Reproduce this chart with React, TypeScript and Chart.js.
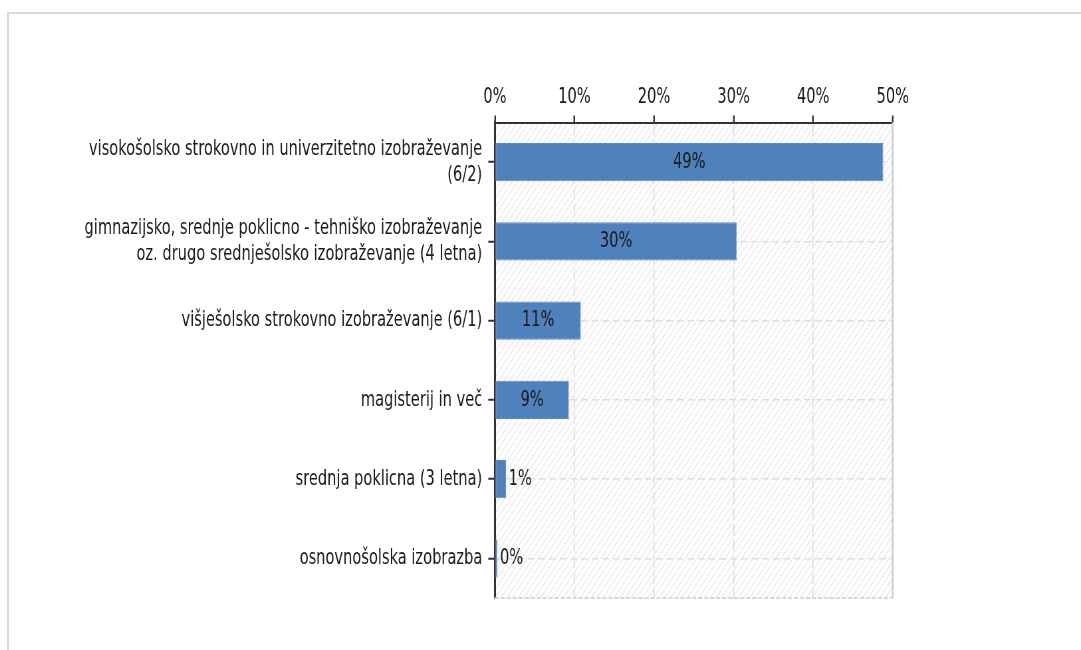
import { useEffect, useRef } from 'react';
import { Chart, registerables } from 'chart.js';

Chart.register(...registerables);

// Education level categories (multi-line labels are arrays)
const categories: (string | string[])[] = [
  ['visokošolsko strokovno in univerzitetno izobraževanje', '(6/2)'],
  ['gimnazijsko, srednje poklicno - tehniško izobraževanje', 'oz. drugo srednješolsko izobraževanje (4 letna)'],
  'višješolsko strokovno izobraževanje (6/1)',
  'magisterij in več',
  'srednja poklicna (3 letna)',
  'osnovnošolska izobrazba',
];

// Share of respondents per category, in percent
const shares = [48.8, 30.4, 10.8, 9.3, 1.4, 0.3];

// Percent ticks along the top axis
const axisTicks = [0, 10, 20, 30, 40, 50];

// The chart is drawn on a wide canvas and shown horizontally condensed
const SQUEEZE = 0.665;
const VIEW_W = 1081;
const VIEW_H = 650;
const CANVAS_W = Math.round(VIEW_W / SQUEEZE);
const PLOT_LEFT = 495 / SQUEEZE;
const PLOT_RIGHT = 893 / SQUEEZE;
const PLOT_TOP = 122.5;
const PLOT_BOTTOM = 598;
const X_AXIS_H = 40;

const FONT = { family: 'DejaVu Sans', size: 22 };
const BAR_BLUE = '#4f81bd';

const hatchPlugin = {
  id: 'hatchBackground',
  beforeDraw(chart: Chart) {
    const { ctx, chartArea: a } = chart;
    ctx.save();
    ctx.beginPath();
    ctx.rect(a.left, a.top, a.right - a.left, a.bottom - a.top);
    ctx.clip();
    ctx.fillStyle = '#ffffff';
    ctx.fillRect(a.left, a.top, a.right - a.left, a.bottom - a.top);
    ctx.strokeStyle = '#ececec';
    ctx.lineWidth = 1.6;
    const h = a.bottom - a.top;
    ctx.beginPath();
    for (let x = a.left - h; x < a.right + 10; x += 8.5) {
      ctx.moveTo(x, a.bottom);
      ctx.lineTo(x + h, a.top);
    }
    ctx.stroke();
    ctx.restore();
  },
};

const frameEdgesPlugin = {
  id: 'frameEdges',
  beforeDatasetsDraw(chart: Chart) {
    const { ctx, chartArea: a } = chart;
    ctx.save();
    ctx.strokeStyle = '#d2d2d2';
    ctx.lineWidth = 3;
    ctx.beginPath();
    ctx.moveTo(a.right, a.top);
    ctx.lineTo(a.right, a.bottom);
    ctx.stroke();
    ctx.strokeStyle = '#d6d6d6';
    ctx.lineWidth = 2;
    ctx.setLineDash([6, 3]);
    ctx.beginPath();
    ctx.moveTo(a.left, a.bottom);
    ctx.lineTo(a.right, a.bottom);
    ctx.stroke();
    ctx.restore();
  },
};

const valueLabelPlugin = {
  id: 'valueLabels',
  afterDatasetsDraw(chart: Chart) {
    const { ctx } = chart;
    const meta = chart.getDatasetMeta(0);
    const values = chart.data.datasets[0].data as number[];
    ctx.save();
    ctx.font = `${FONT.size}px ${FONT.family}`;
    ctx.fillStyle = '#1a1a1a';
    ctx.textBaseline = 'middle';
    meta.data.forEach((el: any, i: number) => {
      const text = `${Math.round(values[i])}%`;
      const tw = ctx.measureText(text).width;
      const w = el.x - el.base;
      if (w > tw + 12) {
        ctx.textAlign = 'center';
        ctx.fillText(text, (el.x + el.base) / 2, el.y);
      } else {
        ctx.textAlign = 'left';
        ctx.fillText(text, el.x + 4, el.y);
      }
    });
    ctx.restore();
  },
};

export default function App() {
  const canvasRef = useRef<HTMLCanvasElement | null>(null);

  useEffect(() => {
    const canvas = canvasRef.current;
    if (!canvas) return;
    const chart = new Chart(canvas, {
      type: 'bar',
      data: {
        labels: categories,
        datasets: [
          {
            data: shares,
            backgroundColor: BAR_BLUE,
            borderColor: '#5a8ac4',
            borderWidth: 1,
            borderSkipped: false,
            barPercentage: 0.48,
            categoryPercentage: 1,
          },
        ],
      },
      options: {
        indexAxis: 'y',
        responsive: false,
        animation: false,
        events: [],
        layout: {
          padding: {
            left: 0,
            top: PLOT_TOP - X_AXIS_H,
            right: CANVAS_W - PLOT_RIGHT,
            bottom: VIEW_H - PLOT_BOTTOM,
          },
        },
        plugins: {
          legend: { display: false },
          tooltip: { enabled: false },
          title: { display: false },
        },
        scales: {
          x: {
            type: 'linear',
            position: 'top',
            min: 0,
            max: 50,
            afterBuildTicks: (s: any) => {
              s.ticks = axisTicks.map((v) => ({ value: v }));
            },
            afterFit: (s: any) => {
              s.height = X_AXIS_H;
            },
            ticks: {
              font: FONT,
              color: '#1a1a1a',
              padding: 5,
              maxRotation: 0,
              callback: (v: any) => `${v}%`,
            },
            grid: {
              color: '#dedede',
              lineWidth: 1.6,
              tickLength: 7,
              tickColor: '#333333',
              tickWidth: 2.4,
            },
            border: { color: '#333333', width: 2, dash: [12, 4] },
          },
          y: {
            type: 'category',
            afterFit: (s: any) => {
              s.width = PLOT_LEFT;
            },
            ticks: {
              font: FONT,
              color: '#1a1a1a',
              padding: 9,
              autoSkip: false,
            },
            grid: {
              offset: false,
              color: '#dedede',
              lineWidth: 1.5,
              tickLength: 10,
              tickColor: '#333333',
              tickWidth: 2,
            },
            border: { color: '#333333', width: 3, dash: [10, 6] },
          },
        },
      },
      plugins: [hatchPlugin, frameEdgesPlugin, valueLabelPlugin],
    });
    return () => chart.destroy();
  }, []);

  return (
    <div style={{ position: 'fixed', left: 0, top: 0, width: VIEW_W, height: VIEW_H, background: '#fff' }}>
      <div
        style={{
          position: 'absolute',
          left: 7,
          top: 12,
          right: 0,
          bottom: 0,
          borderLeft: '2px solid #d9d9d9',
          borderTop: '2px solid #d9d9d9',
        }}
      />
      <canvas
        ref={canvasRef}
        width={CANVAS_W}
        height={VIEW_H}
        style={{ position: 'absolute', left: 0, top: 0, width: VIEW_W, height: VIEW_H, display: 'block' }}
      />
    </div>
  );
}
